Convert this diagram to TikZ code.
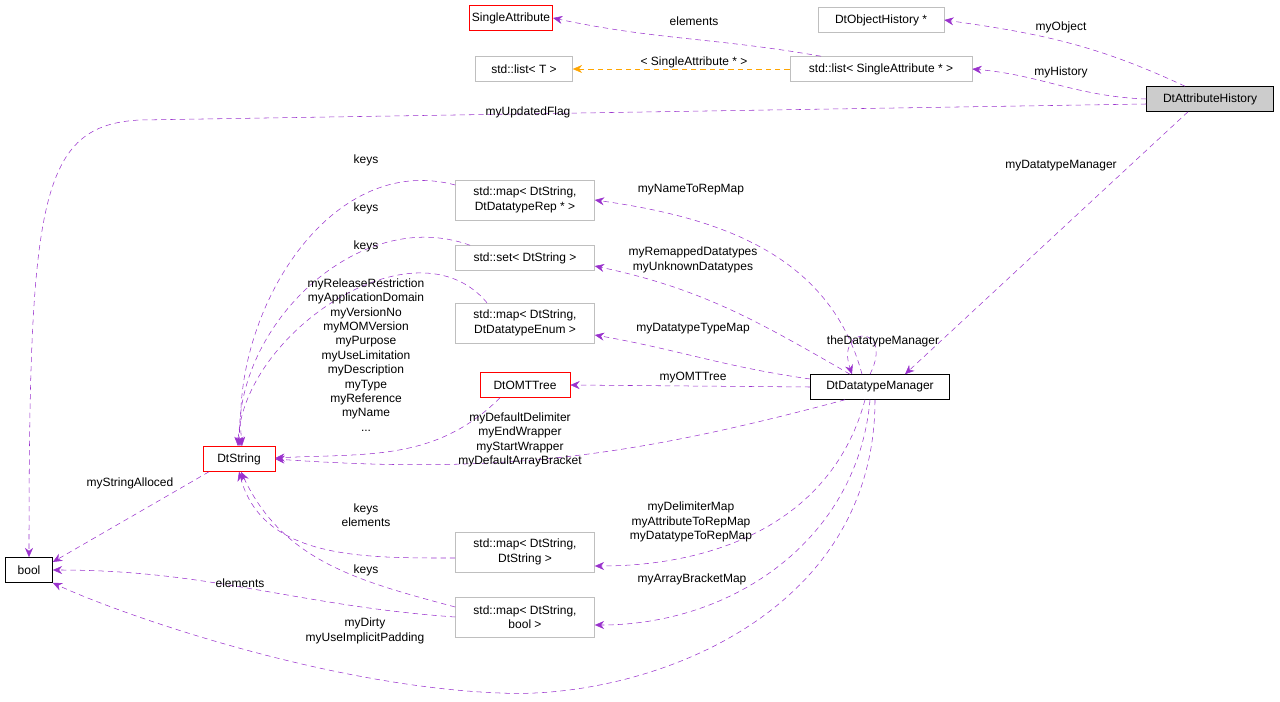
\documentclass[tikz,border=0pt]{standalone}
\usepackage{fontspec}
\setmainfont{Liberation Sans}
\usetikzlibrary{calc,arrows.meta}
\definecolor{edgec}{HTML}{9A32CD}
\definecolor{orangec}{HTML}{FFA500}
\definecolor{grayb}{HTML}{BFBFBF}
\begin{document}
\begin{tikzpicture}[x=0.75pt,y=-0.75pt,
  font=\fontsize{9}{10.8}\selectfont,
  box/.style={draw=grayb,fill=white,inner sep=2pt,align=center,minimum height=25*0.75pt},
  box2/.style={box,minimum height=40*0.75pt},
  redbox/.style={box,draw=red},
  blkbox/.style={box,draw=black},
  e/.style={draw=edgec,dashed,dash pattern=on 4pt off 3pt,-{Stealth[length=7pt,width=6pt]}},
  o/.style={e,draw=orangec},
  lbl/.style={inner sep=0pt,align=center}]
\useasboundingbox (0,0) rectangle (1280,702);
\node[redbox,minimum width=76*0.75pt] (sa) at (511,18) {SingleAttribute};
\node[box,minimum width=126*0.75pt] (doh) at (881,20) {DtObjectHistory *};
\node[box,minimum width=97*0.75pt] (lt) at (524,69) {std::list< T >};
\node[box,minimum width=182*0.75pt] (lsa) at (881,69) {std::list< SingleAttribute * >};
\node[blkbox,fill=grayb!80,minimum width=127*0.75pt] (dah) at (1210,99) {DtAttributeHistory};
\node[box2,minimum width=139*0.75pt] (mrep) at (525,200) {std::map< DtString,\\DtDatatypeRep * >};
\node[box,minimum width=139*0.75pt] (set) at (525,258) {std::set< DtString >};
\node[box2,minimum width=139*0.75pt] (menum) at (525,323) {std::map< DtString,\\DtDatatypeEnum >};
\node[redbox,minimum width=90*0.75pt] (omt) at (525,385) {DtOMTTree};
\node[blkbox,minimum width=139*0.75pt] (ddm) at (880,387) {DtDatatypeManager};
\node[redbox,minimum width=72*0.75pt] (ds) at (239,459) {DtString};
\node[blkbox,minimum width=47*0.75pt] (bool) at (29,570) {bool};
\node[box2,minimum width=139*0.75pt] (mstr) at (525,552) {std::map< DtString,\\DtString >};
\node[box2,minimum width=139*0.75pt] (mbool) at (525,617) {std::map< DtString,\\bool >};

\draw[e] ($(dah.north)+(-25,0)$) to[out=155,in=-8] (doh.east);
\draw[e] (dah.west) to[out=178,in=-5] (lsa.east);
\draw[e] ($(lsa.north)+(-60,0)$) to[out=170,in=-12] (sa.east);
\draw[o] (lsa.west) -- (lt.east);
\draw[e] ($(dah.west)+(0,5)$) -- (140,120) .. controls (40,125) and (29,200) .. (bool.north);
\draw[e] ($(dah.south)+(-22,0)$) -- ($(ddm.north)+(25,0)$);
\draw[e] ($(ddm.north)+(-18,0)$) to[out=105,in=-8] (mrep.east);
\draw[e] ($(ddm.north)+(-30,0)$) to[out=150,in=-12] ($(set.east)+(0,8)$);
\draw[e] ($(ddm.west)+(0,-8)$) to[out=172,in=-10] ($(menum.east)+(0,12)$);
\draw[e] (ddm.west) -- (omt.east);
\draw[e] ($(ddm.north)+(-10,0)$) .. controls ($(ddm.north)+(15,-50)$) and ($(ddm.north)+(-45,-50)$) .. ($(ddm.north)+(-28,0)$);
\draw[e] ($(ddm.south)+(-35,0)$) to[out=195,in=-4] (ds.east);
\draw[e] ($(ddm.south)+(-15,0)$) to[out=-105,in=0] ($(mstr.east)+(0,14)$);
\draw[e] ($(ddm.south)+(-10,0)$) to[out=-95,in=0] ($(mbool.east)+(0,8)$);
\draw[e] ($(ddm.south)+(-5,0)$) .. controls (875,620) and (640,700) .. (500,693) .. controls (320,686) and (110,610) .. (bool.south east);
\draw[e] ($(mrep.west)+(0,-15)$) to[out=165,in=95] ($(ds.north)+(3,0)$);
\draw[e] ($(set.north)+(-55,0)$) to[out=160,in=93] ($(ds.north)+(1,0)$);
\draw[e] ($(menum.north)+(-38,0)$) to[out=130,in=88] ($(ds.north)+(-1,0)$);
\draw[e] ($(omt.south)+(-25,0)$) to[out=-135,in=3] ($(ds.east)+(0,-1)$);
\draw[e] ($(mstr.west)+(0,6)$) to[out=180,in=-75] (ds.south);
\draw[e] ($(mbool.west)+(0,-10)$) to[out=165,in=-65] ($(ds.south)+(2,0)$);
\draw[e] (mbool.west) to[out=176,in=0] (bool.east);
\draw[e] ($(ds.south)+(-30,0)$) -- ($(bool.east)+(0,-8)$);

\node[lbl] (l1) at (1061,27) {myObject};
\node[lbl] (l2) at (1061,72) {myHistory};
\node[lbl] (l3) at (694,21) {elements};
\node[lbl] (l4) at (694,62) {< SingleAttribute * >};
\node[lbl] (l5) at (528,112) {myUpdatedFlag};
\node[lbl] (l6) at (1061,166) {myDatatypeManager};
\node[lbl] (l7) at (691,190) {myNameToRepMap};
\node[lbl] (l8) at (693,260) {myRemappedDatatypes\\myUnknownDatatypes};
\node[lbl] (l9) at (693,329) {myDatatypeTypeMap};
\node[lbl] (l10) at (693,378) {myOMTTree};
\node[lbl] (l11) at (883,341) {theDatatypeManager};
\node[lbl] (l12) at (520,440) {myDefaultDelimiter\\myEndWrapper\\myStartWrapper\\myDefaultArrayBracket};
\node[lbl] (l13) at (691,522) {myDelimiterMap\\myAttributeToRepMap\\myDatatypeToRepMap};
\node[lbl] (l14) at (692,579) {myArrayBracketMap};
\node[lbl] (l15) at (365,631) {myDirty\\myUseImplicitPadding};
\node[lbl] (l16) at (366,160) {keys};
\node[lbl] (l17) at (366,208) {keys};
\node[lbl] (l18) at (366,246) {keys};
\node[lbl] (l19) at (366,355) {myReleaseRestriction\\myApplicationDomain\\myVersionNo\\myMOMVersion\\myPurpose\\myUseLimitation\\myDescription\\myType\\myReference\\myName\\...};
\node[lbl] (l20) at (366,515) {keys\\elements};
\node[lbl] (l21) at (366,570) {keys};
\node[lbl] (l22) at (240,583) {elements};
\node[lbl] (l23) at (130,483) {myStringAlloced};
\end{tikzpicture}
\end{document}
